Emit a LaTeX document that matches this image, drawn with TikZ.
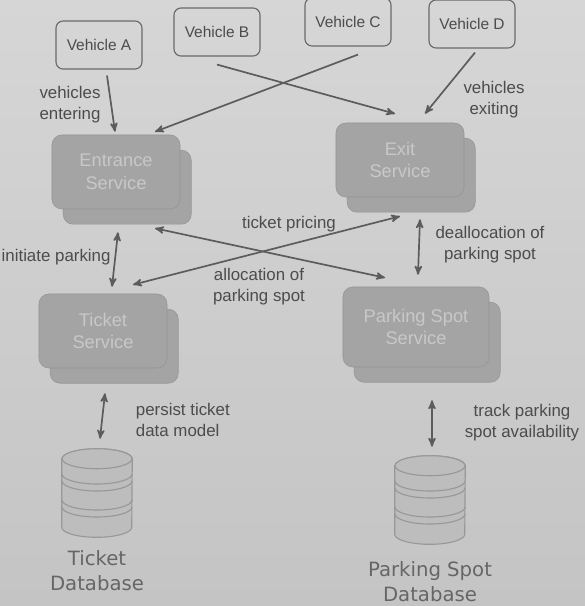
\documentclass[tikz,border=0pt]{standalone}
\usepackage{fontspec}
\setmainfont{Liberation Sans}
\newfontfamily\dbfont{DejaVu Sans}
\usepackage{tikz}
\usetikzlibrary{arrows,shapes,positioning,calc,shadows}
\definecolor{pagetop}{HTML}{D6D6D6}
\definecolor{pagebot}{HTML}{C4C4C4}
\definecolor{boxline}{HTML}{6A6A6A}
\definecolor{labeltext}{HTML}{4C4C4C}
\definecolor{arrowgray}{HTML}{5C5C5C}
\definecolor{svcfill}{HTML}{A4A4A4}
\definecolor{svcline}{HTML}{959595}
\definecolor{svctext}{HTML}{C8C8C8}
\definecolor{dbfill}{HTML}{BDBDBD}
\definecolor{dbline}{HTML}{989898}
\definecolor{dbtext}{HTML}{666666}

\tikzset{
  vehicle/.style={draw=boxline, line width=0.8pt, rounded corners=5pt,
    minimum width=2.15cm, minimum height=1.2cm, text=labeltext,
    font=\fontsize{11}{13}\selectfont},
  svc/.style={draw=svcline, fill=svcfill, rounded corners=7pt,
    minimum width=3.2cm, minimum height=1.85cm, align=center, text=svctext,
    font=\fontsize{13}{16}\selectfont,
    copy shadow={shadow xshift=0.28cm, shadow yshift=-0.38cm}},
  dbframe/.style={minimum width=1.75cm, minimum height=2.2cm, inner sep=0pt},
  dbpath/.style={draw=dbline, fill=dbfill, line width=0.8pt},
  flow/.style={draw=arrowgray, line width=1.2pt, -stealth'},
  biflow/.style={flow, stealth'-stealth'},
  lbl/.style={text=labeltext, align=center, font=\fontsize{12}{15}\selectfont},
  dblbl/.style={text=dbtext, align=center, font=\dbfont\fontsize{14}{18}\selectfont}
}

\begin{document}
\begin{tikzpicture}[x=0.025cm, y=-0.025cm]
  % page
  \shade[top color=pagetop, bottom color=pagebot] (0,0) rectangle (585,606);
  \useasboundingbox (0,0) rectangle (585,606);

  % vehicles
  \node[vehicle] (va) at (99,45) {Vehicle A};
  \node[vehicle] (vb) at (217,32) {Vehicle B};
  \node[vehicle] (vc) at (348,22) {Vehicle C};
  \node[vehicle] (vd) at (472,24) {Vehicle D};

  % services
  \node[svc] (ent) at (116,172) {Entrance\\Service};
  \node[svc] (ex) at (400,160) {Exit\\Service};
  \node[svc] (tkt) at (103,331) {Ticket\\Service};
  \node[svc, minimum width=3.65cm, minimum height=2cm] (ps) at (416,327) {Parking Spot\\Service};

  % databases
  \node[dbframe] (tdb) at (97,493) {};
  \node[dbframe] (pdb) at (430,500) {};
  \foreach \db in {tdb,pdb} {
    \draw[dbpath] ($(\db.north west)+(0,10)$) -- ($(\db.south west)+(0,-10)$)
      arc[start angle=180, end angle=360, x radius=0.875cm, y radius=0.25cm]
      -- ($(\db.north east)+(0,10)$)
      arc[start angle=0, end angle=180, x radius=0.875cm, y radius=0.25cm] -- cycle;
    \draw[dbpath] ($(\db.north)+(0,10)$) ellipse[x radius=0.875cm, y radius=0.25cm];
    \foreach \yy in {-9,-2,17,24}
      \draw[draw=dbline, line width=0.8pt] ($(\db.center)+(-35,\yy-10)$)
        arc[start angle=180, end angle=360, x radius=0.875cm, y radius=0.25cm];
  }
  \node[dblbl, below=0.2cm of tdb] (tdblbl) {Ticket\\Database};
  \node[dblbl, below=0.3cm of pdb] (pdblbl) {Parking Spot\\Database};

  % vehicles in and out
  \draw[flow] ($(va.south)+(8,6)$) -- ($(ent.north)+(-1,-3)$);
  \draw[flow] ($(vc.south)+(10,8)$) -- ($(ent.north)+(39,-3)$);
  \draw[flow] ($(vb.south)+(0,8)$) -- ($(ex.north)+(-5,-9)$);
  \draw[flow] ($(vd.south)+(3,4)$) -- ($(ex.north)+(25,-9)$);

  % service calls
  \draw[biflow] ($(ent.south)+(2,23)$) -- ($(tkt.north)+(9,-7)$);
  \draw[biflow] ($(ent.south)+(39,19)$) -- ($(ps.north)+(-31,-9)$);
  \draw[biflow] ($(tkt.north)+(30,-9)$) -- ($(ex.south)+(0,19)$);
  \draw[biflow] ($(ex.south)+(20,22)$) -- ($(ps.north)+(2,-12)$);
  \draw[biflow] ($(tkt.south)+(2,25)$) -- ($(tdb.north)+(3,-10)$);
  \draw[biflow] ($(ps.south)+(16,33)$) -- ($(pdb.north)+(2,-9)$);

  % labels
  \node[lbl] (lblenter) at (70,105) {vehicles\\entering};
  \node[lbl] (lblexit) at (494,100) {vehicles\\exiting};
  \node[lbl, anchor=west, inner sep=1pt] (lblinit) at (0,257) {initiate parking};
  \node[lbl] (lblprice) at (289,224) {ticket pricing};
  \node[lbl] (lblalloc) at (259,287) {allocation of\\parking spot};
  \node[lbl] (lbldealloc) at (490,245) {deallocation of\\parking spot};
  \node[lbl, align=left, anchor=west] (lblpersist) at (131,420) {persist ticket\\data model};
  \node[lbl] (lbltrack) at (522,423) {track parking\\spot availability};
\end{tikzpicture}
\end{document}
